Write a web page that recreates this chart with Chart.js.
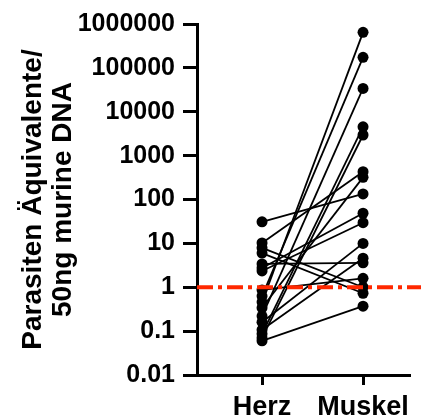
<!DOCTYPE html>
<html><head><meta charset="utf-8">
<script src="https://cdn.jsdelivr.net/npm/chart.js@4"></script>
<style>html,body{margin:0;padding:0;background:#fff}canvas{display:block}</style>
</head><body>
<canvas id="c" width="421" height="419"></canvas>
<script>
const categories = ['Herz', 'Muskel'];
const herz =   [31, 10.2, 7.9, 6, 3.4, 2.75, 2.35, 0.87, 0.63, 0.46, 0.34, 0.22, 0.16, 0.107, 0.087, 0.07, 0.06];
const muskel = [134, 430, 1.0, 0.73, 3.6, 48.6, 29.6, 1.6, 174000, 645000, 320, 34000, 10, 4.6, 4540, 2950, 0.37];
const yTicks = [0.01, 0.1, 1, 10, 100, 1000, 10000, 100000, 1000000];
const referenceLevel = 1;
const yTitle = ['Parasiten Äquivalente/', '50ng murine DNA'];

const FONT = "'Liberation Sans', Arial, sans-serif";

const datasets = herz.map((h, i) => ({
  data: [{x: 0, y: h}, {x: 1, y: muskel[i]}],
  borderColor: '#000',
  backgroundColor: '#000',
  borderWidth: 1.8,
  pointRadius: 5.5,
  pointHoverRadius: 5.5,
  pointBorderWidth: 0,
  showLine: true,
  clip: false
}));

const refLine = {
  id: 'refLine',
  afterDatasetsDraw(chart) {
    const ctx = chart.ctx;
    const y = chart.scales.y.getPixelForValue(referenceLevel);
    ctx.save();
    ctx.strokeStyle = 'rgb(255,40,0)';
    ctx.lineWidth = 4;
    ctx.setLineDash([16, 5, 4, 5]);
    ctx.beginPath();
    ctx.moveTo(chart.chartArea.left, y);
    ctx.lineTo(chart.width, y);
    ctx.stroke();
    ctx.restore();
  }
};

new Chart(document.getElementById('c'), {
  type: 'scatter',
  data: { datasets },
  plugins: [refLine],
  options: {
    responsive: false,
    animation: false,
    devicePixelRatio: 1,
    layout: { padding: { top: 24, right: 11, left: 0, bottom: 0 } },
    plugins: { legend: { display: false }, tooltip: { enabled: false } },
    scales: {
      x: {
        type: 'linear',
        min: -0.644,
        max: 1.465,
        afterBuildTicks(scale) { scale.ticks = categories.map((c, i) => ({ value: i })); },
        afterFit(scale) { scale.height = 44; },
        ticks: {
          callback: (v) => categories[v],
          color: '#000',
          font: { family: FONT, weight: 'bold', size: 27 },
          padding: 6,
          maxRotation: 0,
          autoSkip: false
        },
        grid: { drawOnChartArea: false, drawTicks: true, tickLength: 10, tickWidth: 3, tickColor: '#000' },
        border: { display: true, color: '#000', width: 3 }
      },
      y: {
        type: 'logarithmic',
        min: 0.01,
        max: 1000000,
        afterBuildTicks(scale) { scale.ticks = yTicks.map(v => ({ value: v })); },
        afterFit(scale) { scale.width = 197; },
        ticks: {
          callback: (v) => String(v),
          color: '#000',
          font: { family: FONT, weight: 'bold', size: 25 },
          padding: 8,
          autoSkip: false
        },
        grid: { drawOnChartArea: false, drawTicks: true, tickLength: 14, tickWidth: 3, tickColor: '#000' },
        border: { display: true, color: '#000', width: 3 },
        title: {
          display: true,
          text: yTitle,
          color: '#000',
          font: { family: FONT, weight: 'bold', size: 28, lineHeight: 1.07 },
          padding: { top: 18, bottom: 0 }
        }
      }
    }
  }
});
</script>
</body></html>
